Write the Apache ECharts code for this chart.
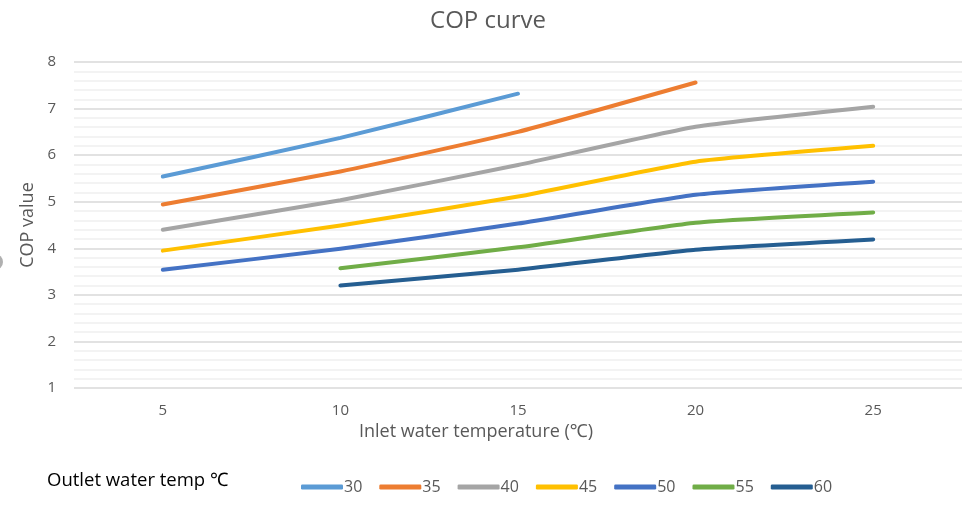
<!DOCTYPE html>
<html>
<head>
<meta charset="utf-8">
<script src="https://cdn.jsdelivr.net/npm/echarts@6/dist/echarts.min.js"></script>
<style>html,body{margin:0;padding:0;background:#fff}#c{width:976px;height:521px}</style>
</head>
<body>
<div id="c"></div>
<script>
const categories = ['5', '10', '15', '20', '25'];
const seriesNames = ['30', '35', '40', '45', '50', '55', '60'];
const s30 = [5.54, 6.37, 7.32, null, null];
const s35 = [4.94, 5.65, 6.50, 7.56, null];
const s40 = [4.40, 5.03, 5.79, 6.61, 7.04];
const s45 = [3.95, 4.49, 5.11, 5.86, 6.20];
const s50 = [3.54, 3.99, 4.53, 5.15, 5.43];
const s55 = [null, 3.57, 4.02, 4.55, 4.77];
const s60 = [null, 3.20, 3.54, 3.97, 4.19];
const seriesData = [s30, s35, s40, s45, s50, s55, s60];
const colors = ['#5b9bd5', '#ed7d31', '#a5a5a5', '#ffc000', '#4472c4', '#70ad47', '#255e91'];
const font = '"Open Sans", "Noto Sans", sans-serif';

const chart = echarts.init(document.getElementById('c'), null, {renderer: 'canvas'});
chart.setOption({
  animation: false,
  color: colors,
  title: {
    text: 'COP curve', left: 'center', top: 4,
    textStyle: {fontFamily: font, fontSize: 24, fontWeight: 'normal', color: '#595959'}
  },
  grid: {left: 74, right: 14, top: 62, bottom: 133},
  legend: {
    bottom: 21, left: 296,
    itemWidth: 42, itemHeight: 5, itemGap: 17,
    icon: 'roundRect',
    textStyle: {fontFamily: font, fontSize: 16, color: '#595959', padding: [0, 0, 0, -4]},
    data: seriesNames
  },
  xAxis: {
    type: 'category', data: categories, boundaryGap: true,
    name: 'Inlet water temperature (℃)', nameLocation: 'middle', nameGap: 27,
    nameTextStyle: {fontFamily: font, fontSize: 18, color: '#595959', padding: [0, 84, 0, 0]},
    axisLine: {show: false}, axisTick: {show: false},
    axisLabel: {fontFamily: font, fontSize: 15, color: '#595959', margin: 15}
  },
  yAxis: {
    type: 'value', min: 1, max: 8, interval: 1,
    name: 'COP value', nameLocation: 'middle', nameGap: 32, nameRotate: 90,
    nameTextStyle: {fontFamily: font, fontSize: 18, color: '#595959'},
    axisLine: {show: false}, axisTick: {show: false},
    axisLabel: {fontFamily: font, fontSize: 15, color: '#595959', margin: 18},
    splitLine: {show: true, lineStyle: {color: '#d9d9d9', width: 1.5}},
    minorTick: {show: false, splitNumber: 5},
    minorSplitLine: {show: true, lineStyle: {color: '#f0f0f0', width: 1.5}}
  },
  graphic: [
    {type: 'text', left: 47, top: 471, style: {text: 'Outlet water temp ℃', font: '18.5px ' + font, fill: '#000'}},
    {type: 'circle', shape: {cx: -5, cy: 262, r: 8}, style: {fill: '#b0b0b0'}}
  ],
  series: seriesNames.map((n, i) => ({
    name: n, type: 'line', data: seriesData[i],
    smooth: 0.15, symbol: 'none', connectNulls: false,
    lineStyle: {width: 4, cap: 'round', join: 'round'}
  }))
});
</script>
</body>
</html>
